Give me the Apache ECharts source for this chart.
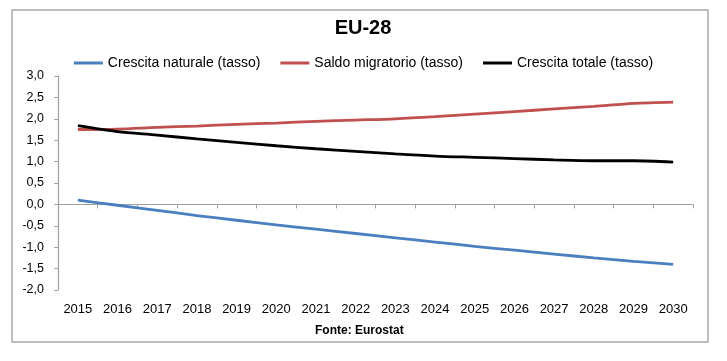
<!DOCTYPE html>
<html>
<head>
<meta charset="utf-8">
<script src="https://cdn.jsdelivr.net/npm/echarts@6/dist/echarts.min.js"></script>
<style>
html,body{margin:0;padding:0;background:#fff;}
#chart{width:727px;height:361px;}
</style>
</head>
<body>
<div id="chart"></div>
<script>
var years = ['2015','2016','2017','2018','2019','2020','2021','2022','2023','2024','2025','2026','2027','2028','2029','2030'];
var crescitaNaturale = [0.10, -0.02, -0.14, -0.26, -0.37, -0.48, -0.58, -0.68, -0.78, -0.88, -0.98, -1.07, -1.16, -1.25, -1.33, -1.40];
var saldoMigratorio = [1.75, 1.76, 1.80, 1.83, 1.87, 1.90, 1.94, 1.97, 2.00, 2.05, 2.11, 2.17, 2.23, 2.29, 2.36, 2.39];
var crescitaTotale = [1.84, 1.70, 1.62, 1.53, 1.45, 1.37, 1.30, 1.24, 1.18, 1.13, 1.10, 1.07, 1.04, 1.02, 1.02, 0.99];
var seriesNames = ['Crescita naturale (tasso)', 'Saldo migratorio (tasso)', 'Crescita totale (tasso)'];
var titleText = 'EU-28';
var sourceText = 'Fonte: Eurostat';

var ff = "'Liberation Sans', Arial, Helvetica, sans-serif";
var chart = echarts.init(document.getElementById('chart'), null, {renderer: 'canvas'});
function mk(name, data, color) {
  return {
    name: name, type: 'line', data: data, xAxisIndex: 0, yAxisIndex: 0,
    smooth: 0.3, showSymbol: false, symbol: 'none',
    lineStyle: {color: color, width: 2.8}, itemStyle: {color: color}
  };
}
chart.setOption({
  backgroundColor: '#fff',
  animation: false,
  title: {
    text: titleText, left: 358, top: 13, textAlign: 'center',
    textStyle: {fontFamily: ff, fontWeight: 'bold', fontSize: 20, color: '#000'}
  },
  legend: {
    data: seriesNames, left: 'center', top: 51, icon: 'rect',
    itemWidth: 29, itemHeight: 3, itemGap: 20,
    textStyle: {fontFamily: ff, fontSize: 14, color: '#000'}
  },
  graphic: [
    {type: 'rect', shape: {x: 12, y: 10, width: 696, height: 332}, style: {fill: 'none', stroke: '#a8a8a8', lineWidth: 1.5}, silent: true},
    {type: 'text', left: 315, top: 325, style: {text: sourceText, font: "bold 12px 'Liberation Sans', Arial, sans-serif", fill: '#000'}}
  ],
  grid: {left: 58, right: 34, top: 76, bottom: 71, containLabel: false},
  xAxis: [
    {
      type: 'category', data: years, position: 'bottom', boundaryGap: true,
      axisLine: {show: false, onZero: false}, axisTick: {show: false},
      axisLabel: {fontFamily: ff, fontSize: 13, color: '#000', margin: 13, interval: 0},
      splitLine: {show: false}
    },
    {
      type: 'category', data: years, position: 'bottom', boundaryGap: true,
      axisLine: {show: true, onZero: true, lineStyle: {color: '#a0a0a0', width: 1.2}},
      axisTick: {show: true, length: 4, inside: false, lineStyle: {color: '#a0a0a0'}},
      axisLabel: {show: false}, splitLine: {show: false}
    }
  ],
  yAxis: {
    type: 'value', min: -2, max: 3, interval: 0.5,
    axisLine: {show: true, lineStyle: {color: '#a0a0a0', width: 1.2}},
    axisTick: {show: true, length: 4, lineStyle: {color: '#a0a0a0'}},
    splitLine: {show: false},
    axisLabel: {
      fontFamily: ff, fontSize: 12.5, color: '#000', margin: 14,
      formatter: function (v) { return v.toFixed(1).replace('.', ','); }
    }
  },
  series: [
    mk(seriesNames[0], crescitaNaturale, '#4a7fc0'),
    mk(seriesNames[1], saldoMigratorio, '#c0504d'),
    mk(seriesNames[2], crescitaTotale, '#000000')
  ]
});
</script>
</body>
</html>
